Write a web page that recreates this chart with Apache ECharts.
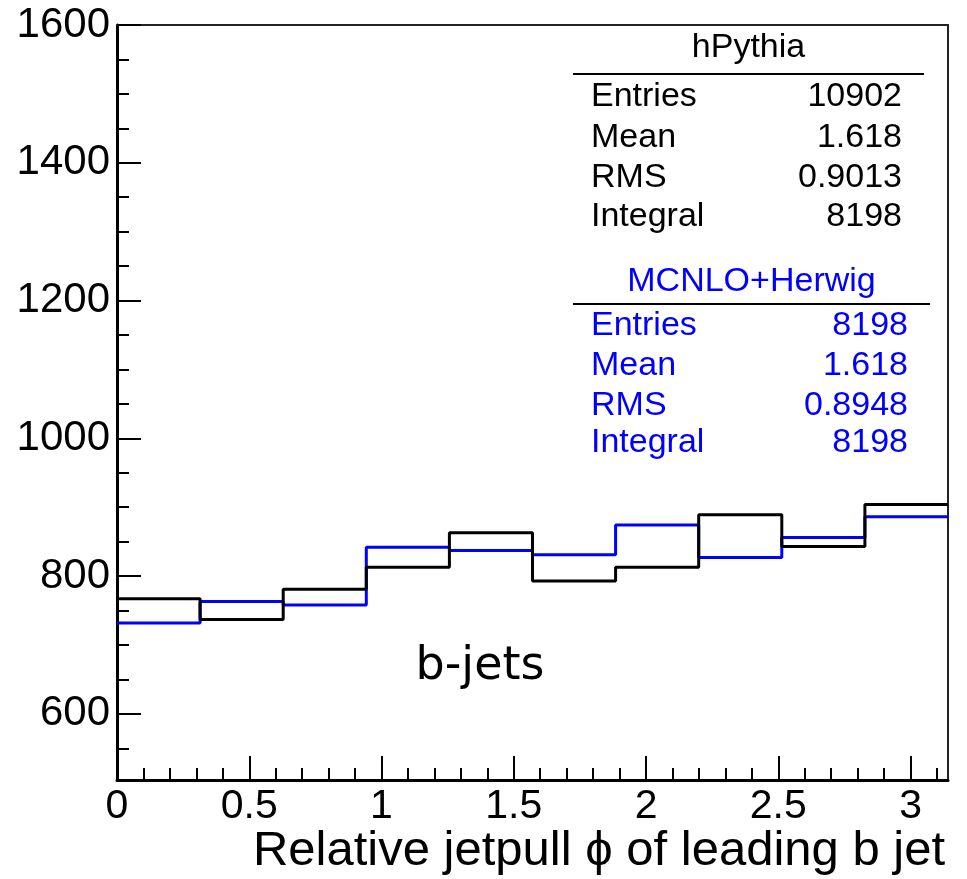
<!DOCTYPE html>
<html>
<head>
<meta charset="utf-8">
<script src="https://cdn.jsdelivr.net/npm/echarts@6/dist/echarts.min.js"></script>
<style>
html,body{margin:0;padding:0;background:#fff;}
#chart{width:967px;height:879px;}
</style>
</head>
<body>
<div id="chart"></div>
<script>
// ---- data ----
const xMin = 0;
const xMax = Math.PI;
const nBins = 10;
const yMin = 504;
const yMax = 1600;
const pythiaCounts = [767, 737, 781, 813, 863, 793, 813, 889, 843, 904];
const herwigCounts = [732, 763, 758, 842, 837, 831, 874, 827, 856, 886];
const xTickLabels = [0, 0.5, 1, 1.5, 2, 2.5, 3];
const yTickLabels = [600, 800, 1000, 1200, 1400, 1600];
const xMinorTicks = [0.1,0.2,0.3,0.4,0.6,0.7,0.8,0.9,1.1,1.2,1.3,1.4,1.6,1.7,1.8,1.9,2.1,2.2,2.3,2.4,2.6,2.7,2.8,2.9,3.1];
const yMinorTicks = [550, 650, 700, 750, 850, 900, 950, 1050, 1100, 1150, 1250, 1300, 1350, 1450, 1500, 1550];
const xTitle = 'Relative jetpull \u03D5 of leading b jet';
const statsPythia = {name: 'hPythia', rows: [['Entries','10902'],['Mean','1.618'],['RMS','0.9013'],['Integral','8198']]};
const statsHerwig = {name: 'MCNLO+Herwig', rows: [['Entries','8198'],['Mean','1.618'],['RMS','0.8948'],['Integral','8198']]};
const annotation = 'b-jets';

// ---- helpers ----
function stepPoints(vals) {
  const w = (xMax - xMin) / nBins;
  const pts = vals.map((v, i) => [xMin + i * w, v]);
  pts.push([xMax, vals[vals.length - 1]]);
  return pts;
}

const FONT = "'Liberation Sans', Arial, Helvetica, sans-serif";
const chart = echarts.init(document.getElementById('chart'), null, {renderer: 'canvas'});

const G = {left: 117, right: 19, top: 25, bottom: 99};
const SF = '34px ' + FONT;

function statsGraphics(st, color, headerY, lineY, lineX1, lineX2, rowYs, labelX, valueX) {
  const els = [];
  els.push({type: 'text', style: {text: st.name, x: (lineX1 + lineX2) / 2, y: headerY, align: 'center', verticalAlign: 'middle', fill: color, font: SF}});
  els.push({type: 'line', shape: {x1: lineX1, y1: lineY, x2: lineX2, y2: lineY}, style: {stroke: '#000', lineWidth: 2}});
  st.rows.forEach((r, i) => {
    els.push({type: 'text', style: {text: r[0], x: labelX, y: rowYs[i], align: 'left', verticalAlign: 'middle', fill: color, font: SF}});
    els.push({type: 'text', style: {text: r[1], x: valueX, y: rowYs[i], align: 'right', verticalAlign: 'middle', fill: color, font: SF}});
  });
  return els;
}

const graphics = [].concat(
  statsGraphics(statsPythia, '#000', 48, 74, 573, 924, [97, 138, 178, 217], 591, 902),
  statsGraphics(statsHerwig, '#0000ff', 282, 304, 573, 930, [326, 366, 406, 443], 591, 908),
  [
    {type: 'text', style: {text: xTitle, x: 945, y: 851, align: 'right', verticalAlign: 'middle', fill: '#000', font: '49px ' + FONT}},
    {type: 'text', style: {text: annotation, x: 480, y: 667, align: 'center', verticalAlign: 'middle', fill: '#000', font: "46px 'DejaVu Sans', sans-serif"}}
  ]
);

const option = {
  animation: false,
  backgroundColor: '#fff',
  grid: {left: G.left, right: G.right, top: G.top, bottom: G.bottom, containLabel: false},
  xAxis: [
    {
      type: 'value', min: xMin, max: xMax, position: 'bottom',
      axisLine: {show: true, onZero: false, lineStyle: {color: '#000', width: 3}},
      axisTick: {show: true, inside: true, length: 24, customValues: xTickLabels, lineStyle: {color: '#000', width: 2}},
      axisLabel: {show: true, customValues: xTickLabels, margin: 6, color: '#000', fontSize: 41, fontFamily: FONT, formatter: v => String(v)},
      splitLine: {show: false}
    },
    {
      type: 'value', min: xMin, max: xMax, position: 'bottom',
      axisLine: {show: false},
      axisTick: {show: true, inside: true, length: 12, customValues: xMinorTicks, lineStyle: {color: '#000', width: 2}},
      axisLabel: {show: false},
      splitLine: {show: false}
    },
    {
      type: 'value', min: xMin, max: xMax, position: 'top',
      axisLine: {show: true, onZero: false, lineStyle: {color: '#222', width: 2}},
      axisTick: {show: false}, axisLabel: {show: false}, splitLine: {show: false}
    }
  ],
  yAxis: [
    {
      type: 'value', min: yMin, max: yMax, position: 'left',
      axisLine: {show: true, onZero: false, lineStyle: {color: '#000', width: 3}},
      axisTick: {show: true, inside: true, length: 24, customValues: yTickLabels, lineStyle: {color: '#000', width: 2}},
      axisLabel: {show: true, customValues: yTickLabels, margin: 7, color: '#000', fontSize: 42, fontFamily: FONT, formatter: v => String(v)},
      splitLine: {show: false}
    },
    {
      type: 'value', min: yMin, max: yMax, position: 'left',
      axisLine: {show: false},
      axisTick: {show: true, inside: true, length: 12, customValues: yMinorTicks, lineStyle: {color: '#000', width: 2}},
      axisLabel: {show: false},
      splitLine: {show: false}
    },
    {
      type: 'value', min: yMin, max: yMax, position: 'right',
      axisLine: {show: true, onZero: false, lineStyle: {color: '#222', width: 2}},
      axisTick: {show: false}, axisLabel: {show: false}, splitLine: {show: false}
    }
  ],
  series: [
    {
      name: 'MCNLO+Herwig', type: 'line', step: 'end', xAxisIndex: 0, yAxisIndex: 0,
      data: stepPoints(herwigCounts), showSymbol: false, symbol: 'none',
      lineStyle: {color: '#0000ff', width: 3}, z: 2
    },
    {
      name: 'hPythia', type: 'line', step: 'end', xAxisIndex: 0, yAxisIndex: 0,
      data: stepPoints(pythiaCounts), showSymbol: false, symbol: 'none',
      lineStyle: {color: '#000', width: 3}, z: 3
    }
  ],
  graphic: graphics
};
chart.setOption(option);
</script>
</body>
</html>
